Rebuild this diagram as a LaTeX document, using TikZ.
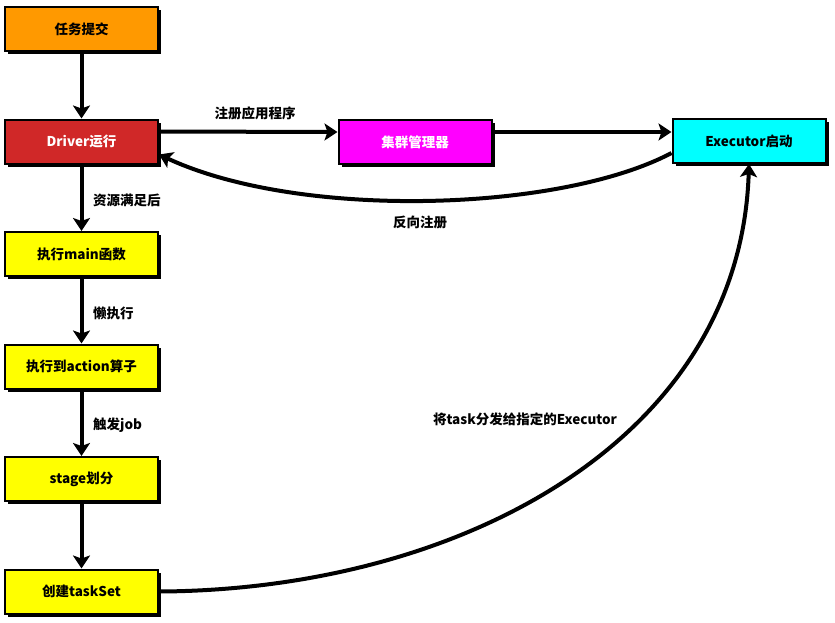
\documentclass[tikz,border=0pt]{standalone}
\usepackage{fontspec}
\setmainfont{Noto Sans CJK SC}
\usetikzlibrary{arrows.meta,shadows}
\definecolor{submitorange}{HTML}{FF9900}
\definecolor{driverred}{HTML}{D02828}
\definecolor{clustermagenta}{HTML}{FF00FF}
\definecolor{executorcyan}{HTML}{00FFFF}
\definecolor{stepyellow}{HTML}{FFFF00}
\tikzset{
  stepbox/.style={draw=black, line width=2pt, minimum width=153pt, minimum height=44pt,
    inner sep=0pt, font=\bfseries\fontsize{13.5}{15}\selectfont,
    drop shadow={shadow xshift=3pt, shadow yshift=-3pt, opacity=1, fill=black}},
  flow/.style={line width=4pt, -{Stealth[length=13pt,width=17pt,inset=3pt]}},
  lbl/.style={font=\bfseries\fontsize{13.5}{15}\selectfont, inner sep=0pt}
}
\begin{document}
\begin{tikzpicture}[x=1pt,y=-1pt]
  \useasboundingbox (0,0) rectangle (835,622);
  % --- Parameters ---
  \def\colx{81.5}    % x of the left column
  \def\rowy{29}      % y of the first row
  \def\rowd{112.5}   % distance between rows
  % --- Left column ---
  \node[stepbox, fill=submitorange] (submit) at (\colx, \rowy) {任务提交};
  \node[stepbox, fill=driverred, text=white] (driver) at (\colx, {\rowy+\rowd}) {Driver运行};
  \node[stepbox, fill=stepyellow] (mainfn) at (\colx, {\rowy+2*\rowd}) {执行main函数};
  \node[stepbox, fill=stepyellow] (action) at (\colx, {\rowy+3*\rowd}) {执行到action算子};
  \node[stepbox, fill=stepyellow] (stage) at (\colx, {\rowy+4*\rowd}) {stage划分};
  \node[stepbox, fill=stepyellow] (taskset) at (\colx, {\rowy+5*\rowd}) {创建taskSet};
  % --- Top row ---
  \node[stepbox, fill=clustermagenta, text=white] (cluster) at (415, 142) {集群管理器};
  \node[stepbox, fill=executorcyan] (executor) at (749, 141) {Executor启动};
  % --- Arrows down the column ---
  \draw[flow] (submit) -- (driver);
  \draw[flow] (driver) -- (mainfn);
  \draw[flow] (mainfn) -- (action);
  \draw[flow] (action) -- (stage);
  \draw[flow] (stage) -- (taskset);
  % Labels on the column arrows
  \node[lbl, anchor=west] (lres) at (93, 200) {资源满足后};
  \node[lbl, anchor=west] (llazy) at (93, 313) {懒执行};
  \node[lbl, anchor=west] (ljob) at (93, 425) {触发job};
  % --- Registration ---
  \draw[flow] ([yshift=10pt]driver.east) -- ([yshift=10pt]cluster.west);
  \draw[flow] ([yshift=10pt]cluster.east) -- ([yshift=9pt]executor.west);
  \node[lbl] (lreg) at (255, 113) {注册应用程序};
  % back registration, curved below
  \draw[flow] ([yshift=-12pt]executor.west) .. controls (560,212) and (300,220) .. ([yshift=-13pt]driver.east);
  \node[lbl] (lback) at (420, 222) {反向注册};
  % --- Dispatch of the tasks ---
  \draw[flow] (taskset.east) .. controls (460,590) and (740,440) .. (executor.south);
  \node[lbl] (ldispatch) at (525, 419) {将task分发给指定的Executor};
\end{tikzpicture}
\end{document}
